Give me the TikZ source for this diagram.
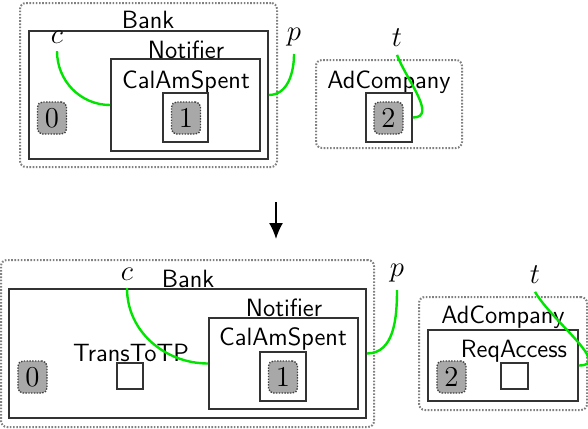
\documentclass[tikz,border=0pt]{standalone}
\usepackage{tikz}
\usetikzlibrary{arrows.meta,positioning}
\definecolor{wiregreen}{RGB}{0,228,0}
\definecolor{tokgray}{RGB}{168,168,168}

\begin{document}
\begin{tikzpicture}[x=0.5pt,y=-0.5pt,
    every node/.style={font=\fontsize{12.5}{14}\selectfont\sffamily},
    region/.style={draw=gray,dash pattern=on 0.8pt off 0.8pt,line width=1pt,rounded corners=3pt,inner sep=0pt},
    cell/.style={draw=black!80,line width=0.9pt,inner sep=0pt},
    token/.style={draw=black!75,dash pattern=on 0.7pt off 0.7pt,line width=0.7pt,fill=tokgray,rounded corners=2.5pt,
      minimum width=14.5pt,minimum height=16pt,inner sep=0pt,font=\fontsize{13.5}{15}\selectfont},
    port/.style={inner sep=1pt,outer sep=3pt,font=\fontsize{13.5}{15}\selectfont},
    wire/.style={wiregreen,line width=1.2pt}]
    \useasboundingbox (0,0) rectangle (588,428);
    % before
    \node[region,minimum width=128.5pt,minimum height=82pt] (bankReg) at (148.5,85) {};
    \node (bankLbl) at (148,20) {Bank};
    \node[cell,minimum width=119.5pt,minimum height=64pt] (bankBox) at (148.5,95) {};
    \node (notifLbl) at (186,50) {Notifier};
    \node[cell,minimum width=74.5pt,minimum height=46pt] (notifBox) at (185.5,105) {};
    \node (calLbl) at (186,82) {CalAmSpent};
    \node[cell,minimum width=22.5pt,minimum height=24.5pt] (calBox) at (185.5,117.5) {};
    \node[token] (tokOne) at (186,118) {$1$};
    \node[token] (tokZero) at (52,118) {$0$};
    \node[region,minimum width=73pt,minimum height=44pt] (adReg) at (389,104) {};
    \node (adLbl) at (389,82) {AdCompany};
    \node[cell,minimum width=23pt,minimum height=24.5pt] (adBox) at (389,117.5) {};
    \node[token] (tokTwo) at (388.5,118) {$2$};
    \node[port] (c) at (57,37) {$c$};
    \node[port] (p) at (294,37) {$p$};
    \node[port] (t) at (397,38) {$t$};
    \draw[wire] (c.south) to[out=-90,in=180] (notifBox.west);
    \draw[wire] (p.south) to[out=-90,in=0] (bankBox.east);
    \draw[wire] (t.south) to[out=-70,in=0] (adBox.east);
    % step
    \coordinate (stepFrom) at (276,202);
    \coordinate (stepTo) at (276,239);
    \draw[-{Latex[length=8pt,width=7pt]},line width=0.8pt] (stepFrom) -- (stepTo);
    % after
    \node[region,minimum width=186.5pt,minimum height=83.5pt] (bankReg2) at (187.5,343.5) {};
    \node (bankLbl2) at (188,279) {Bank};
    \node[cell,minimum width=178.5pt,minimum height=64.5pt] (bankBox2) at (187.5,353.5) {};
    \node (notifLbl2) at (284,308) {Notifier};
    \node[cell,minimum width=74.5pt,minimum height=45.5pt] (notifBox2) at (283.5,363.5) {};
    \node (calLbl2) at (283,339) {CalAmSpent};
    \node[cell,minimum width=23pt,minimum height=24.5pt] (calBox2) at (283,376.5) {};
    \node[token] (tokOne2) at (283,377) {$1$};
    \node (transLbl) at (131,353) {TransToTP};
    \node[cell,minimum width=13pt,minimum height=13pt] (transBox) at (130,376) {};
    \node[token] (tokZero2) at (32.5,377) {$0$};
    \node[region,minimum width=84pt,minimum height=56.5pt] (adReg2) at (503,353.5) {};
    \node (adLbl2) at (503,317) {AdCompany};
    \node[cell,minimum width=75pt,minimum height=35.5pt] (adBox2) at (503,365.5) {};
    \node (reqLbl) at (514,351) {ReqAccess};
    \node[cell,minimum width=13.5pt,minimum height=13pt] (reqBox) at (514.5,376) {};
    \node[token] (tokTwo2) at (451.5,377) {$2$};
    \node[port] (c2) at (127,274) {$c$};
    \node[port] (p2) at (397,273) {$p$};
    \node[port] (t2) at (535,275) {$t$};
    \draw[wire] (c2.south) to[out=-90,in=180] (notifBox2.west);
    \draw[wire] (p2.south) to[out=-90,in=0] (bankBox2.east);
    \draw[wire] (t2.south) to[out=-60,in=0] (adBox2.east);
\end{tikzpicture}
\end{document}
